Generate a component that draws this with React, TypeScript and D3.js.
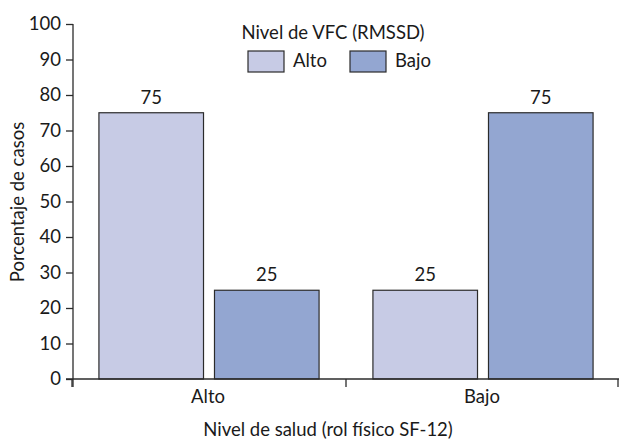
import * as React from 'react';
import * as d3 from 'd3';

const groups = ['Alto', 'Bajo'];
const seriesNames = ['Alto', 'Bajo'];
const altoValues = [75, 25];
const bajoValues = [25, 75];
const yTicks = [0, 10, 20, 30, 40, 50, 60, 70, 80, 90, 100];
const colors = ['#c7cbe5', '#93a6d1'];

const W = 619;
const H = 442;
const FONT = 'Lato, "Open Sans", sans-serif';
const FS = 18.5;

export default function App() {
  const ref = React.useRef<SVGSVGElement>(null);

  React.useEffect(() => {
    const svg = d3.select(ref.current);
    svg.selectAll('*').remove();

    const x0 = d3.scaleBand().domain(groups).range([72, 620]);
    const x1 = d3.scaleBand().domain(seriesNames)
      .range([0, x0.bandwidth()])
      .paddingInner(0.095)
      .paddingOuter(0.233);
    const y = d3.scaleLinear().domain([0, 100]).range([379, 24]);

    const data = groups.map((g, i) => ({
      group: g,
      values: [
        { key: seriesNames[0], value: altoValues[i] },
        { key: seriesNames[1], value: bajoValues[i] },
      ],
    }));
    const color = d3.scaleOrdinal<string>().domain(seriesNames).range(colors);

    // bars
    const gBars = svg.append('g');
    const grp = gBars.selectAll('g').data(data).enter().append('g')
      .attr('transform', d => `translate(${x0(d.group)},0)`);
    grp.selectAll('rect').data(d => d.values).enter().append('rect')
      .attr('x', d => x1(d.key))
      .attr('y', d => y(d.value))
      .attr('width', x1.bandwidth())
      .attr('height', d => y(0) - y(d.value))
      .attr('fill', d => color(d.key))
      .attr('stroke', '#2b2b2b')
      .attr('stroke-width', 1.2);
    grp.selectAll('text').data(d => d.values).enter().append('text')
      .attr('x', d => x1(d.key) + x1.bandwidth() / 2)
      .attr('y', d => y(d.value) - 9)
      .attr('text-anchor', 'middle')
      .attr('font-family', FONT)
      .attr('font-size', FS)
      .attr('fill', '#1a1a1a')
      .text(d => d.value);

    // y axis
    const yAxis = svg.append('g').attr('transform', 'translate(73,0)')
      .call(d3.axisLeft(y).tickValues(yTicks).tickSize(7).tickPadding(5));
    yAxis.select('.domain').attr('d', `M0,${y(100)}V387`).attr('stroke', '#2b2b2b').attr('stroke-width', 1.3);
    yAxis.selectAll('line').attr('stroke', '#2b2b2b').attr('stroke-width', 1.3);
    yAxis.selectAll('text').attr('font-family', FONT).attr('font-size', FS).attr('fill', '#1a1a1a');

    // x axis
    const xAxisG = svg.append('g').attr('transform', `translate(0,${y(0)})`);
    xAxisG.append('path').attr('d', 'M66,0H620').attr('stroke', '#2b2b2b').attr('stroke-width', 1.3);
    const bounds = [72, x0('Bajo') as number, 618];
    xAxisG.selectAll('line.sep').data(bounds).enter().append('line')
      .attr('x1', d => d).attr('x2', d => d).attr('y1', 0).attr('y2', 8)
      .attr('stroke', '#2b2b2b').attr('stroke-width', 1.3);
    xAxisG.selectAll('text').data(groups).enter().append('text')
      .attr('x', d => (x0(d) as number) + x0.bandwidth() / 2 - 1)
      .attr('y', 24)
      .attr('text-anchor', 'middle')
      .attr('font-family', FONT).attr('font-size', FS).attr('fill', '#1a1a1a')
      .text(d => d);

    // axis titles
    svg.append('text')
      .attr('x', 328).attr('y', 436)
      .attr('text-anchor', 'middle')
      .attr('font-family', FONT).attr('font-size', FS).attr('fill', '#1a1a1a')
      .text('Nivel de salud (rol físico SF-12)');
    svg.append('text')
      .attr('transform', 'translate(24,202) rotate(-90)')
      .attr('text-anchor', 'middle')
      .attr('font-family', FONT).attr('font-size', FS).attr('fill', '#1a1a1a')
      .text('Porcentaje de casos');

    // legend
    const leg = svg.append('g');
    leg.append('text')
      .attr('x', 333).attr('y', 39)
      .attr('text-anchor', 'middle')
      .attr('font-family', FONT).attr('font-size', FS).attr('fill', '#1a1a1a')
      .text('Nivel de VFC (RMSSD)');
    const legX = [248, 350];
    const item = leg.selectAll('g.item').data(seriesNames).enter().append('g')
      .attr('transform', (d, i) => `translate(${legX[i]},51)`);
    item.append('rect')
      .attr('width', 36).attr('height', 21)
      .attr('fill', d => color(d))
      .attr('stroke', '#2b2b2b').attr('stroke-width', 1.2);
    item.append('text')
      .attr('x', 45).attr('y', 16)
      .attr('font-family', FONT).attr('font-size', FS).attr('fill', '#1a1a1a')
      .text(d => d);
  }, []);

  return (
    <svg ref={ref} width={W} height={H}
      style={{ position: 'absolute', left: 0, top: 0, background: '#fff' }} />
  );
}
